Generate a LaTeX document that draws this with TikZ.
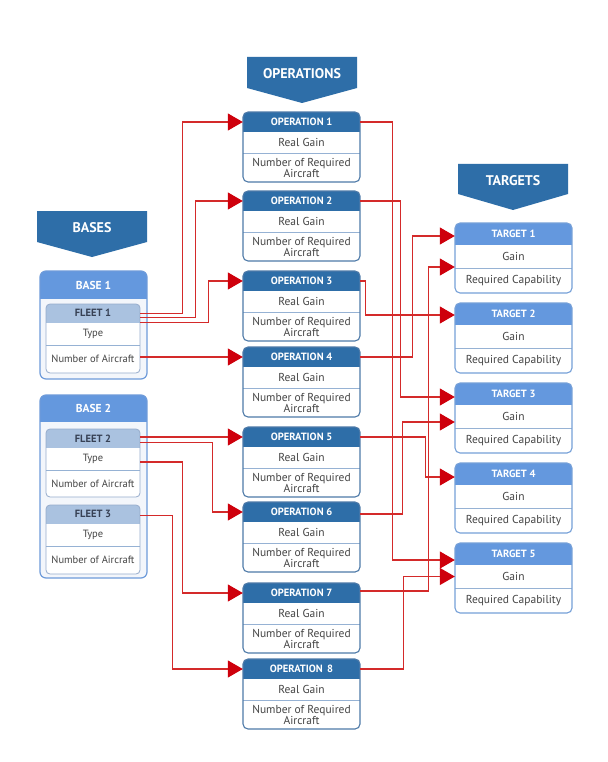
\documentclass[tikz,border=0pt]{standalone}
\usepackage{fontspec}
\setmainfont{PT Sans}
\usetikzlibrary{arrows.meta}
\definecolor{dblue}{RGB}{46,110,168}
\definecolor{lblue}{RGB}{100,152,222}
\definecolor{fleetc}{RGB}{170,194,224}
\definecolor{opbord}{RGB}{78,122,168}
\definecolor{tgbord}{RGB}{118,160,216}
\definecolor{basebord}{RGB}{110,155,218}
\definecolor{flbord}{RGB}{150,172,204}
\definecolor{sepc}{RGB}{150,178,212}
\definecolor{txtc}{RGB}{68,68,68}
\definecolor{fltxt}{RGB}{55,65,85}
\definecolor{linkc}{RGB}{212,42,42}
\definecolor{arrc}{RGB}{206,0,12}
\definecolor{basefill}{RGB}{243,246,251}
\tikzset{
 headtxt/.style={font=\bfseries\fontsize{10.5}{12}\selectfont, text=white, inner sep=0pt},
 basetxt/.style={font=\bfseries\fontsize{11.5}{12}\selectfont, text=white, inner sep=0pt},
 bantxt/.style={font=\bfseries\fontsize{14}{14}\selectfont, text=white, inner sep=0pt},
 fltxtst/.style={font=\bfseries\fontsize{10.5}{12}\selectfont, text=fltxt, inner sep=0pt},
 rowtxt/.style={font=\fontsize{11.5}{10.5}\selectfont, text=txtc, inner sep=0pt, align=center},
 smalltxt/.style={font=\fontsize{10.5}{11}\selectfont, text=txtc, inner sep=0pt},
 banner/.style={fill=dblue},
 link/.style={draw=linkc, line width=1.1pt, -{Triangle[length=15pt,width=17pt,color=arrc]}}
}
\newcommand\OpBox[3]{%
 \begin{scope}[shift={(243,#2)}]
  \fill[white,rounded corners=5pt] (0,0) rectangle (117,70);
  \begin{scope}
   \clip[rounded corners=5pt] (0,0) rectangle (117,70);
   \fill[dblue] (0,0) rectangle (117,20);
  \end{scope}
  \draw[sepc,line width=0.8pt] (0,41) -- (117,41);
  \draw[opbord,line width=1.1pt,rounded corners=5pt] (0,0) rectangle (117,70);
  \node[headtxt,minimum width=117pt,minimum height=20pt] (#1h) at (58.5,10) {#3};
  \node[rowtxt,minimum width=117pt] (#1g) at (58.5,30.5) {Real Gain};
  \node[rowtxt,minimum width=117pt] (#1r) at (58.5,56) {Number of Required\\Aircraft};
 \end{scope}}
\newcommand\TgBox[3]{%
 \begin{scope}[shift={(455,#2)}]
  \fill[white,rounded corners=5pt] (0,0) rectangle (117,70);
  \begin{scope}
   \clip[rounded corners=5pt] (0,0) rectangle (117,70);
   \fill[lblue] (0,0) rectangle (117,22);
  \end{scope}
  \draw[sepc,line width=0.8pt] (0,45) -- (117,45);
  \draw[tgbord,line width=1.1pt,rounded corners=5pt] (0,0) rectangle (117,70);
  \node[headtxt,minimum width=117pt,minimum height=22pt] (#1h) at (58.5,11) {#3};
  \node[rowtxt,minimum width=117pt] (#1g) at (58.5,33.5) {Gain};
  \node[rowtxt,minimum width=117pt] (#1r) at (58.5,57.5) {Required Capability};
 \end{scope}}
\newcommand\FlBox[4]{%
 \begin{scope}[shift={(46,#2)}]
  \fill[white,rounded corners=4pt] (0,0) rectangle (94,#3);
  \begin{scope}
   \clip[rounded corners=4pt] (0,0) rectangle (94,#3);
   \fill[fleetc] (0,0) rectangle (94,18.5);
  \end{scope}
  \draw[sepc,line width=0.8pt] (0,41.5) -- (94,41.5);
  \draw[flbord,line width=0.8pt,rounded corners=4pt] (0,0) rectangle (94,#3);
  \node[fltxtst,minimum width=94pt,minimum height=18.5pt] (#1h) at (47,9.25) {#4};
  \node[smalltxt,minimum width=94pt] (#1t) at (47,30) {Type};
  \node[smalltxt,minimum width=94pt] (#1n) at (47,{(41.5+#3)/2}) {Number of Aircraft};
 \end{scope}}
\newcommand\BaseBox[5]{%
 \begin{scope}[shift={(40,#2)}]
  \fill[basefill,rounded corners=6pt] (0,0) rectangle (107,#3);
  \begin{scope}
   \clip[rounded corners=6pt] (0,0) rectangle (107,#3);
   \fill[lblue] (0,0) rectangle (107,#4);
  \end{scope}
  \draw[basebord,line width=1.2pt,rounded corners=6pt] (0,0) rectangle (107,#3);
  \node[basetxt,minimum width=107pt,minimum height=#4pt] (#1) at (53.5,{#4/2}) {#5};
 \end{scope}}
\begin{document}
\begin{tikzpicture}[x=1pt,y=-1pt]
\useasboundingbox[fill=white] (0,0) rectangle (607,762);
% banners
\fill[banner] (37,211) -- (147,211) -- (147,242) -- (92,257) -- (37,242) -- cycle;
\node[bantxt] (bases) at (92,228) {BASES};
\fill[banner] (247,57) -- (357,57) -- (357,88) -- (302,103) -- (247,88) -- cycle;
\node[bantxt] (opers) at (302,74) {OPERATIONS};
\fill[banner] (458,164) -- (568,164) -- (568,194) -- (513,210) -- (458,194) -- cycle;
\node[bantxt] (targs) at (513,181) {TARGETS};
% bases
\BaseBox{b1}{271}{108}{28}{BASE 1}
\FlBox{fa}{304}{69}{FLEET 1}
\BaseBox{b2}{395}{183}{27}{BASE 2}
\FlBox{fb}{429}{68}{FLEET 2}
\FlBox{fc}{505}{69}{FLEET 3}
% operations
\OpBox{o1}{112}{OPERATION 1}
\OpBox{o2}{191}{OPERATION 2}
\OpBox{o3}{271}{OPERATION 3}
\OpBox{o4}{347}{OPERATION 4}
\OpBox{o5}{427}{OPERATION 5}
\OpBox{o6}{502}{OPERATION 6}
\OpBox{o7}{583}{OPERATION 7}
\OpBox{o8}{659}{OPERATION \,8}
% targets
\TgBox{t1}{223}{TARGET 1}
\TgBox{t2}{303}{TARGET 2}
\TgBox{t3}{383}{TARGET 3}
\TgBox{t4}{463}{TARGET 4}
\TgBox{t5}{543}{TARGET 5}
% fleets -> operations
\draw[link] ([yshift=-0.5pt]fah.east) -- ++(42,0) |- (o1h.west);
\draw[link] ([yshift=-4.5pt]fah.east) -- ++(55,0) |- (o2h.west);
\draw[link] ([yshift=-9.5pt]fah.east) -- ++(68,0) |- (o3h.west);
\draw[link] (fan.east |- o4h.west) -- (o4h.west);
\draw[link] (fbh.east |- o5h.west) -- (o5h.west);
\draw[link] ([yshift=-4.5pt]fbh.east) -- ++(72,0) |- (o6h.west);
\draw[link] ([yshift=-3pt]fbt.east) -- ++(42,0) |- (o7h.west);
\draw[link] ([yshift=-1pt]fch.east) -- ++(32,0) |- (o8h.west);
% operations -> targets
\draw[link] (o1h.east) -- ++(32,0) |- ([yshift=-6pt]t5h.west);
\draw[link] (o2h.east) -- ++(40,0) |- ([yshift=-3pt]t3h.west);
\draw[link] (o3h.east) -- ++(5,0) |- ([yshift=-1pt]t2h.west);
\draw[link] (o4h.east) -- ++(52,0) |- ([yshift=-2pt]t1h.west);
\draw[link] (o5h.east) -- ++(65,0) |- ([yshift=-3pt]t4h.west);
\draw[link] ([yshift=-2pt]o6h.east) -- ++(42,0) |- ([yshift=-5.5pt]t3g.west);
\draw[link] ([yshift=2pt]o7h.east) -- ++(68,0) |- ([yshift=-10.5pt]t1g.west);
\draw[link] (o8h.east) -- ++(43,0) |- (t5g.west);
\end{tikzpicture}
\end{document}
